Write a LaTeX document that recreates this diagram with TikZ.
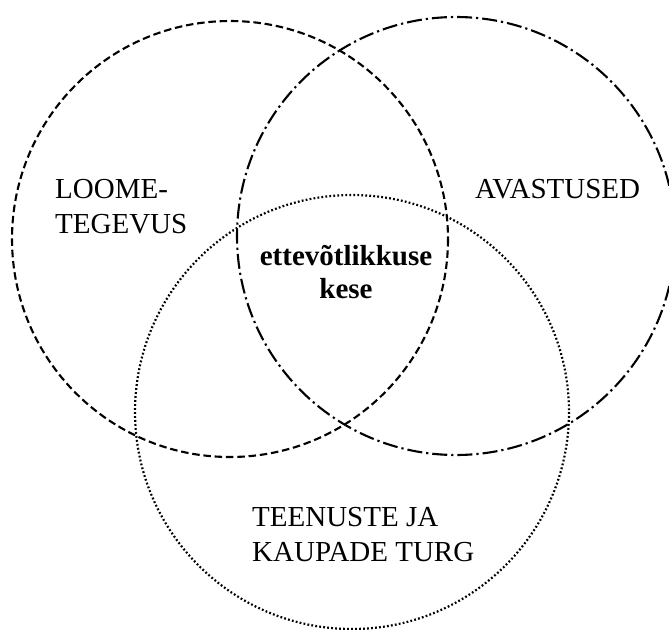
\documentclass[tikz,border=0pt]{standalone}
\usepackage{fontspec}
\setmainfont{Liberation Serif}
\begin{document}
\begin{tikzpicture}[x=1pt,y=-1pt,
  ring/.style={line width=2.1pt,line cap=butt},
  dashring/.style={ring,dash pattern=on 7.5pt off 3.8pt},
  dashdotring/.style={ring,dash pattern=on 15pt off 4pt on 2.2pt off 4pt},
  dotring/.style={ring,line width=2.2pt,dash pattern=on 1.8pt off 2.2pt},
  lbl/.style={inner sep=0pt,align=left,font=\fontsize{29}{34.5}\selectfont},
  ctr/.style={inner sep=0pt,align=center,font=\fontsize{29}{33}\selectfont\bfseries}]
\useasboundingbox (0,0) rectangle (669,629);
\draw[dashring] (230,239) circle[radius=218];
\draw[dashdotring] (456,236) circle[radius=219];
\draw[dotring] (352,412) circle[radius=217];
\node[lbl,anchor=base west] (loome) at (55,233) {LOOME-\\TEGEVUS};
\node[lbl,anchor=base west] (avastused) at (475,198) {AVASTUSED};
\node[ctr,anchor=base] (kese) at (346,298) {ettevõtlikkuse\\kese};
\node[lbl,anchor=base west] (turg) at (252,561) {TEENUSTE JA\\KAUPADE TURG};
\end{tikzpicture}
\end{document}
